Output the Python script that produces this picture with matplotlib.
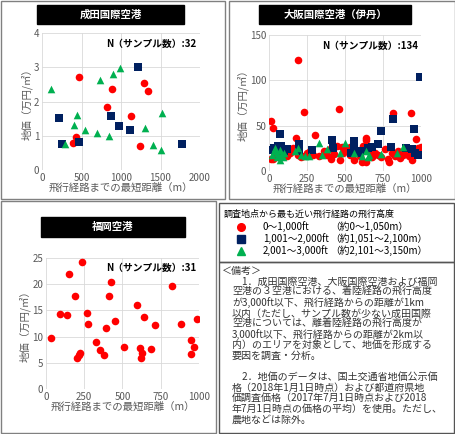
import matplotlib
matplotlib.use("Agg")
import matplotlib.pyplot as plt
from matplotlib.patches import Rectangle

plt.rcParams['font.family'] = ['Noto Sans CJK JP', 'DejaVu Sans']

RED, NAVY, GREEN = '#ff0000', '#002060', '#00b050'

# Narita
nar_red_x = [468, 890, 823, 1127, 1291, 1338, 435, 397, 1240]
nar_red_y = [2.71, 2.37, 1.83, 1.59, 2.55, 2.30, 0.96, 0.80, 0.71]
nar_navy_x = [1211, 211, 878, 979, 1118, 257, 464, 1776]
nar_navy_y = [3.01, 1.53, 1.58, 1.29, 1.17, 0.77, 0.82, 0.77]
nar_green_x = [118, 734, 903, 987, 443, 405, 540, 700, 844, 295, 1300, 1515, 1409, 1506]
nar_green_y = [2.37, 2.62, 2.80, 2.97, 1.62, 1.31, 1.17, 1.07, 0.99, 0.75, 1.24, 1.65, 0.74, 0.59]

# Osaka (Itami)
osa_red_x = [193, 228, 458, 818, 932, 11, 24, 178, 303, 636, 967, 1000,
             10, 25, 40, 50, 60, 75, 90, 100, 120, 140, 160, 175, 190, 210, 230, 250, 270, 290,
             330, 360, 380, 400, 410, 430, 450, 470, 490, 510, 530, 560, 580, 600, 610, 620, 640,
             660, 680, 700, 720, 740, 760, 780, 790, 810, 830, 850, 860, 880, 900, 920, 940, 960,
             980, 480, 530, 640]
osa_red_y = [122, 65, 68, 64, 64, 55, 47, 36, 40, 34, 35, 27,
             13, 13, 15, 18, 22, 20, 25, 18, 17, 20, 25, 22, 18, 15, 16, 20, 22, 18,
             16, 22, 18, 24, 13, 19, 28, 12, 20, 24, 18, 12, 22, 16, 10, 28, 10,
             22, 15, 20, 18, 15, 24, 13, 10, 20, 16, 22, 14, 18, 22, 16, 12, 22,
             25, 27, 26, 36]
osa_navy_x = [991, 818, 954, 735, 70, 195, 412, 557, 5, 30, 45, 60, 80, 100, 120, 200, 280,
              420, 560, 580, 600, 620, 650, 680, 720, 800, 900, 940, 960, 980, 540]
osa_navy_y = [104, 57, 46, 44, 41, 30, 34, 33, 23, 25, 24, 28, 28, 22, 24, 22, 23,
              25, 28, 22, 20, 22, 25, 27, 30, 27, 25, 24, 20, 18, 20]
osa_green_x = [20, 30, 40, 50, 55, 60, 70, 75, 80, 90, 100, 170, 190, 210, 240, 260, 330, 350,
               380, 470, 500, 560, 610, 640, 650, 660, 740, 840, 880]
osa_green_y = [18, 22, 25, 15, 20, 17, 12, 23, 18, 15, 20, 22, 25, 18, 16, 16, 31, 18,
               24, 20, 31, 20, 16, 22, 15, 18, 19, 20, 27]

# Fukuoka
fuk_x = [35, 93, 137, 152, 187, 237, 202, 217, 222, 265, 272, 324, 354, 376, 389, 415, 426, 450,
         513, 593, 613, 626, 620, 643, 685, 711, 822, 885, 950, 950, 965, 985]
fuk_y = [9.7, 14.3, 14.1, 22.0, 17.7, 24.3, 5.9, 6.5, 6.8, 14.5, 12.5, 8.9, 7.4, 6.4, 11.6, 17.7,
         20.5, 12.9, 8.0, 16.1, 7.8, 6.9, 5.9, 13.7, 7.6, 12.3, 19.6, 12.5, 9.4, 6.6, 8.1, 13.4]

W, H = 456, 434
fig = plt.figure(figsize=(W / 100, H / 100), dpi=100)

def ax_px(x0, y0, x1, y1):
    return fig.add_axes([x0 / W, 1 - y1 / H, (x1 - x0) / W, (y1 - y0) / H])

def frame(x0, y0, x1, y1, lw=1.0, color='#808080'):
    fig.patches.append(Rectangle((x0 / W, 1 - y1 / H), (x1 - x0) / W, (y1 - y0) / H,
                                 transform=fig.transFigure, fill=False, ec=color, lw=lw))

def title_box(x0, y0, x1, y1, text):
    fig.patches.append(Rectangle((x0 / W, 1 - y1 / H), (x1 - x0) / W, (y1 - y0) / H,
                                 transform=fig.transFigure, fc='black', ec='black'))
    fig.text((x0 + x1) / 2 / W, 1 - (y0 + y1) / 2 / H, text, color='white', ha='center',
             va='center', fontsize=7.5, fontweight='bold')

frame(1, 1, 225, 199)
frame(229, 1, 455, 199)
frame(1, 201, 216, 433)
frame(219, 203, 454, 262, color='#555555')
frame(219, 262, 454, 433, color='#555555')

def style(ax, xlim, ylim, xt, yt, ntext):
    ax.set_xlim(*xlim); ax.set_ylim(*ylim)
    ax.set_xticks(xt); ax.set_yticks(yt)
    ax.grid(True, color='#d9d9d9', lw=0.6)
    ax.set_axisbelow(True)
    for s in ax.spines.values():
        s.set_visible(False)
    ax.tick_params(length=0, labelsize=7, colors='#595959', pad=2)
    ax.set_xlabel('飛行経路までの最短距離（m）', fontsize=7.5, color='#595959', labelpad=0)
    ax.set_ylabel('地価（万円/㎡）', fontsize=7.5, color='#595959', labelpad=1)
    ax.text(0.98, 0.96, ntext, transform=ax.transAxes, ha='right', va='top',
            fontsize=7, fontweight='bold')

ms = 30
title_box(37, 5, 184, 24, '成田国際空港')
a1 = ax_px(42, 33, 200, 170)
a1.scatter(nar_red_x, nar_red_y, s=ms, c=RED, marker='o', lw=0)
a1.scatter(nar_navy_x, nar_navy_y, s=ms, c=NAVY, marker='s', lw=0)
a1.scatter(nar_green_x, nar_green_y, s=ms, c=GREEN, marker='^', lw=0)
style(a1, (0, 2000), (0, 4), [0, 500, 1000, 1500, 2000], [0, 1, 2, 3, 4], 'N（サンプル数）:32')

title_box(259, 5, 411, 24, '大阪国際空港（伊丹）')
a2 = ax_px(269, 35, 421, 171)
a2.scatter(osa_red_x, osa_red_y, s=ms, c=RED, marker='o', lw=0)
a2.scatter(osa_navy_x, osa_navy_y, s=ms, c=NAVY, marker='s', lw=0)
a2.scatter(osa_green_x, osa_green_y, s=ms, c=GREEN, marker='^', lw=0)
style(a2, (0, 1000), (0, 150), [0, 250, 500, 750, 1000], [0, 50, 100, 150], 'N（サンプル数）:134')

title_box(41, 217, 185, 237, '福岡空港')
a3 = ax_px(46, 258, 199, 389)
a3.scatter(fuk_x, fuk_y, s=ms, c=RED, marker='o', lw=0)
style(a3, (0, 1000), (0, 25), [0, 250, 500, 750, 1000], [0, 5, 10, 15, 20, 25], 'N（サンプル数）:31')

# Legend box
fig.text(224 / W, 1 - 214 / H, '調査地点から最も近い飛行経路の飛行高度', fontsize=6.5, va='center')
rows = [('o', RED, '0～1,000ft', '（約0～1,050m）'),
        ('s', NAVY, '1,001～2,000ft', '（約1,051～2,100m）'),
        ('^', GREEN, '2,001～3,000ft', '（約2,101～3,150m）')]
for i, (m, c, a, b) in enumerate(rows):
    y = 1 - (227 + i * 12) / H
    fig.lines.append(matplotlib.lines.Line2D([241 / W], [y], marker=m, color=c, ms=5.5,
                                             transform=fig.transFigure, ls='none'))
    fig.text(263 / W, y, a, fontsize=7, va='center')
    fig.text(330 / W, y, b, fontsize=7, va='center')

notes = ['＜備考＞',
         '　1．成田国際空港、大阪国際空港および福岡',
         '空港の３空港における、着陸経路の飛行高度',
         'が3,000ft以下、飛行経路からの距離が1km',
         '以内（ただし、サンプル数が少ない成田国際',
         '空港については、離着陸経路の飛行高度が',
         '3,000ft以下、飛行経路からの距離が2km以',
         '内）のエリアを対象として、地価を形成する',
         '要因を調査・分析。',
         '',
         '　2．地価のデータは、国土交通省地価公示価',
         '格（2018年1月1日時点）および都道府県地',
         '価調査価格（2017年7月1日時点および2018',
         '年7月1日時点の価格の平均）を使用。ただし、',
         '農地などは除外。']
for i, t in enumerate(notes):
    x = 222 if i == 0 else 232
    fig.text(x / W, 1 - (271 + i * 10.6) / H, t, fontsize=7.2, va='center', color='#333333')

fig.savefig('out.png', dpi=100)
